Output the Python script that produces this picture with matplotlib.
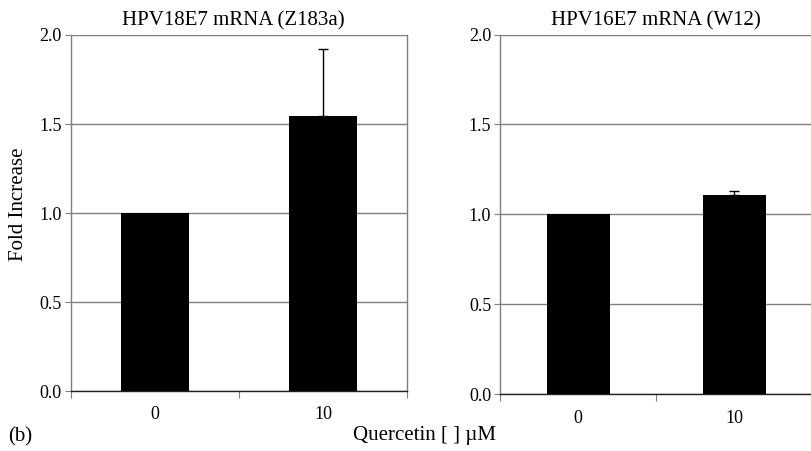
import matplotlib
matplotlib.use("Agg")
import matplotlib.pyplot as plt
import numpy as np

plt.rcParams['font.family'] = ['Liberation Serif', 'DejaVu Serif']

categories = ["0", "10"]
titles = ["HPV18E7 mRNA (Z183a)", "HPV16E7 mRNA (W12)"]
values_z183a = [1.0, 1.545]
errors_z183a = [0.0, 0.375]
values_w12 = [1.0, 1.106]
errors_w12 = [0.0, 0.025]
yticks = [0.0, 0.5, 1.0, 1.5, 2.0]

fig = plt.figure(figsize=(8.11, 4.51), dpi=100)
ax1 = fig.add_axes([0.0875, 0.1330, 0.4143, 0.7894])
ax2 = fig.add_axes([0.6169, 0.1257, 0.3846, 0.7978])

gray = "#7f7f7f"
for ax, title, vals, errs, tx in [(ax1, titles[0], values_z183a, errors_z183a, 0.482),
                                  (ax2, titles[1], values_w12, errors_w12, 0.5)]:
    x = np.arange(len(categories))
    ax.bar(x, vals, width=0.405, color="black", zorder=3)
    vals_a = np.array(vals)
    errs_a = np.array(errs)
    m = errs_a > 0
    ax.errorbar(x[m], vals_a[m], yerr=[np.zeros(m.sum()), errs_a[m]], fmt="none",
                ecolor="black", elinewidth=1.0, capthick=1.0, capsize=3.5, zorder=4)
    ax.set_xlim(-0.5, 1.5)
    ax.set_ylim(0, 2.0)
    ax.set_yticks(yticks)
    ax.set_yticklabels([f"{t:.1f}" for t in yticks], fontsize=13)
    ax.yaxis.grid(True, color=gray, linewidth=1.0, zorder=0)
    ax.set_axisbelow(True)
    ax.set_xticks([-0.5, 0.5, 1.5])
    ax.set_xticklabels([])
    ax.set_xticks(x, minor=True)
    ax.set_xticklabels(categories, minor=True, fontsize=13)
    ax.tick_params(axis='x', which='major', length=5, direction='out', color=gray)
    ax.tick_params(axis='x', which='minor', length=0, pad=11)
    ax.tick_params(axis='y', length=4, direction='out', color=gray, pad=2.5)
    ax.spines['top'].set_visible(False)
    ax.spines['left'].set_color(gray)
    ax.spines['right'].set_color(gray)
    ax.spines['bottom'].set_color("#222222")
    for s in ax.spines.values():
        s.set_linewidth(1.0)
    ax.set_title(title, fontsize=15, pad=6.5, x=tx)

ax1.set_ylabel("Fold Increase", fontsize=15)
ax1.yaxis.set_label_coords(-0.127, 0.525)

fig.text(0.010, 0.022, "(b)", fontsize=15, ha="left", va="baseline")
fig.text(0.523, 0.024, "Quercetin [ ] \u00b5M", fontsize=15, ha="center", va="baseline")

fig.savefig("out.png", dpi=100)
